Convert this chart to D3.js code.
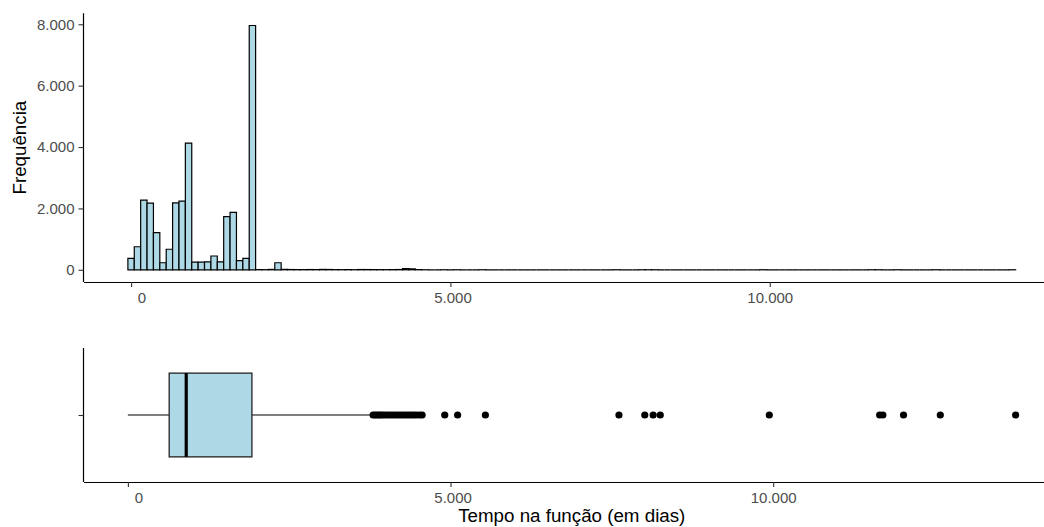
<!DOCTYPE html>
<html><head><meta charset="utf-8">
<script src="https://cdn.jsdelivr.net/npm/d3@7"></script>
<style>
body{margin:0;background:#fff}
svg text{font-family:"Liberation Sans",Arial,Helvetica,sans-serif}
</style>
</head><body>
<svg id="c" width="1044" height="527"></svg>
<script>
// ---------- DATA ----------
const binWidth = 100; // bins centred on 0, 100, 200, ...
const binCounts = [
  370, 750, 2270, 2170, 1210, 230, 670, 2180, 2240, 4130,
  250, 250, 260, 450, 260, 1730, 1870, 300, 370, 7960,
  6, 4, 12, 230, 14, 9, 7, 5, 8, 6,
  12, 10, 5, 4, 6, 3, 9, 8, 6, 5,
  4, 7, 9, 38, 30, 6, 1, 0, 0, 1,
  0, 1, 0, 0, 0, 1, 0, 0, 0, 0,
  0, 0, 0, 0, 0, 0, 0, 0, 0, 0,
  0, 0, 0, 0, 0, 0, 1, 0, 0, 0,
  1, 1, 1, 0, 0, 0, 0, 0, 0, 0,
  0, 0, 0, 0, 0, 0, 0, 0, 0, 2,
  0, 0, 0, 0, 0, 0, 0, 0, 0, 0,
  0, 0, 0, 0, 0, 0, 1, 1, 0, 0,
  1, 0, 0, 0, 0, 0, 1, 0, 0, 0,
  0, 0, 0, 0, 0, 0, 0, 0, 1
];
const boxStats = {lower: 0, q1: 640, median: 904, q3: 1922, upper: 3750};
const outliers = [3800, 3830, 3860, 3890, 3920, 3950, 3990, 4030, 4070, 4110,
  4150, 4190, 4230, 4270, 4310, 4350, 4390, 4430, 4470, 4520, 4560,
  4910, 5110, 5540, 7610, 8010, 8140, 8250, 9940, 11650, 11700, 12020, 12590, 13757];
const xTickValues = [0, 5000, 10000];
const xTickLabels = ["0", "5.000", "10.000"];
const yTickValues = [0, 2000, 4000, 6000, 8000];
const yTickLabels = ["0", "2.000", "4.000", "6.000", "8.000"];
const xTitle = "Tempo na função (em dias)";
const yTitle = "Frequência";

// ---------- LAYOUT ----------
const svg = d3.select("#c");
const L = 83.5, R = 1060;
const P1 = {t: 13.3, b: 282};
const P2 = {t: 348, b: 482};
const fill = "#ADD8E6";
const axisTextSize = 15, titleSize = 18.75;
function expand(d){ const s = d[1]-d[0]; return [d[0]-0.05*s, d[1]+0.05*s]; }
// padded labels like R's format()
const maxLen = d3.max(xTickLabels, s => s.length);
const padded = xTickLabels.map(s => " ".repeat(maxLen - s.length) + s);

// ---------- HISTOGRAM ----------
const bins = binCounts.map((c, i) => ({x0: i*binWidth - binWidth/2, x1: i*binWidth + binWidth/2, n: c}));
const hx = d3.scaleLinear().domain(expand([bins[0].x0, bins[bins.length-1].x1])).range([L, R]);
const hy = d3.scaleLinear().domain(expand([0, d3.max(binCounts)])).range([P1.b, P1.t]);

svg.append("g").selectAll("path").data(bins).join("path")
  .attr("d", d => {
    const p = d3.path();
    p.moveTo(hx(d.x0), hy(0)); p.lineTo(hx(d.x0), hy(d.n));
    p.lineTo(hx(d.x1), hy(d.n)); p.lineTo(hx(d.x1), hy(0)); p.closePath();
    return p.toString();
  })
  .attr("fill", fill).attr("stroke", "#000").attr("stroke-width", 1.2)
  .attr("stroke-linejoin", "miter");

function styleAxis(g){
  g.select(".domain").attr("stroke", "#000").attr("stroke-width", 1.2);
  g.selectAll(".tick line").attr("stroke", "#333").attr("stroke-width", 1.1);
  g.selectAll(".tick text").attr("fill", "#4D4D4D").attr("font-size", axisTextSize)
    .attr("font-family", null).style("white-space", "pre").attr("xml:space", "preserve");
}

const gx1 = svg.append("g").attr("transform", `translate(0,${P1.b})`)
  .call(d3.axisBottom(hx).tickValues(xTickValues).tickSize(5).tickSizeOuter(0).tickPadding(5)
    .tickFormat((d, i) => padded[i]));
styleAxis(gx1);
const gy1 = svg.append("g").attr("transform", `translate(${L},0)`)
  .call(d3.axisLeft(hy).tickValues(yTickValues).tickSize(5).tickSizeOuter(0).tickPadding(4)
    .tickFormat((d, i) => yTickLabels[i]));
styleAxis(gy1);

// ---------- BOXPLOT ----------
const bx = d3.scaleLinear().domain(expand([boxStats.lower, d3.max(outliers)])).range([L, R]);
const by = d3.scaleLinear().domain([0.4, 1.6]).range([P2.b, P2.t]);
const gb = svg.append("g");
gb.selectAll("circle").data(outliers).join("circle")
  .attr("cx", d => bx(d)).attr("cy", by(1)).attr("r", 3.6).attr("fill", "#000");
gb.append("line").attr("x1", bx(boxStats.lower)).attr("x2", bx(boxStats.q1))
  .attr("y1", by(1)).attr("y2", by(1)).attr("stroke", "#000").attr("stroke-width", 1.2);
gb.append("line").attr("x1", bx(boxStats.q3)).attr("x2", bx(boxStats.upper))
  .attr("y1", by(1)).attr("y2", by(1)).attr("stroke", "#000").attr("stroke-width", 1.2);
gb.append("rect").attr("x", bx(boxStats.q1)).attr("width", bx(boxStats.q3) - bx(boxStats.q1))
  .attr("y", by(1.375)).attr("height", by(0.625) - by(1.375))
  .attr("fill", fill).attr("stroke", "#222").attr("stroke-width", 1.3);
gb.append("line").attr("x1", bx(boxStats.median)).attr("x2", bx(boxStats.median))
  .attr("y1", by(1.375)).attr("y2", by(0.625)).attr("stroke", "#000").attr("stroke-width", 3.2);

const gx2 = svg.append("g").attr("transform", `translate(0,${P2.b})`)
  .call(d3.axisBottom(bx).tickValues(xTickValues).tickSize(5).tickSizeOuter(0).tickPadding(5)
    .tickFormat((d, i) => padded[i]));
styleAxis(gx2);
const gy2 = svg.append("g").attr("transform", `translate(${L},0)`)
  .call(d3.axisLeft(by).tickValues([1]).tickSize(5).tickSizeOuter(0).tickFormat(() => ""));
styleAxis(gy2);
gy2.select(".domain").attr("d", `M0,${P2.b}V${P2.t}`);
gy1.select(".domain").attr("d", `M0,${P1.b}V${P1.t}`);

// ---------- TITLES ----------
svg.append("text").attr("transform", `translate(26,${(P1.t + P1.b)/2}) rotate(-90)`)
  .attr("text-anchor", "middle").attr("font-size", titleSize).attr("fill", "#000").text(yTitle);
svg.append("text").attr("x", (L + R)/2).attr("y", 521.7)
  .attr("text-anchor", "middle").attr("font-size", titleSize).attr("fill", "#000").text(xTitle);
</script>
</body></html>
